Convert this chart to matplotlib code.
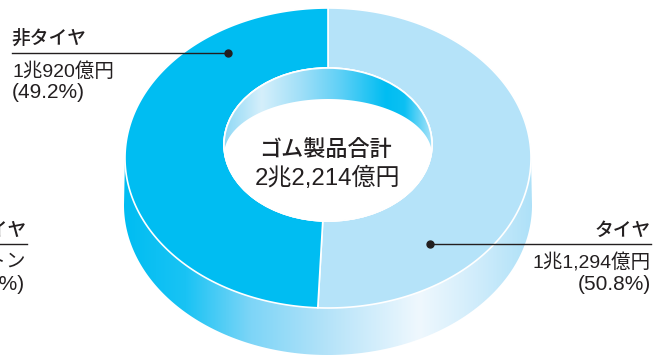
import numpy as np
import matplotlib
matplotlib.use('Agg')
import matplotlib.pyplot as plt
from matplotlib.colors import LinearSegmentedColormap
from matplotlib.patches import Polygon, Ellipse

# sales by segment
segments = ['タイヤ', '非タイヤ']
shares = [50.8, 49.2]
amounts = ['1兆1,294億円', '1兆920億円']
share_labels = ['(50.8%)', '(49.2%)']
total_title = 'ゴム製品合計'
total_amount = '2兆2,214億円'

# partly cut off at the left border
side_labels = ['タイヤ', '万トン', '(50.2%)']

TIRE = '#b5e3f9'
OTHER = '#00bdf2'
INK = '#231f20'
HEAD_FONT = ['Noto Sans CJK JP']
BODY_FONT = ['Liberation Sans', 'Noto Sans CJK JP']

fig = plt.figure(figsize=(6.64, 3.56), dpi=100)
ax = fig.add_axes([0, 0, 1, 1])
ax.set_xlim(0, 664)
ax.set_ylim(356, 0)
ax.axis('off')

CX, CY = 328, 158
RX, RY = 203, 150
DEPTH = 47
IN_CY, IN_RX, IN_RY = 144.5, 104, 76.5


def arc(cx, cy, rx, ry, start, end, n=200):
    # angles run clockwise from twelve o'clock, in degrees
    t = np.radians(np.linspace(start, end, n))
    return np.column_stack([cx + rx * np.sin(t), cy - ry * np.cos(t)])


def gradient(stops, clip, x0, x1, y0, y1, z):
    cmap = LinearSegmentedColormap.from_list('g', stops)
    im = ax.imshow(np.linspace(0, 1, 512)[None, :], cmap=cmap, aspect='auto',
                   extent=[x0, x1, y1, y0], zorder=z)
    clip.set_transform(ax.transData)
    im.set_clip_path(clip)


# side wall of the ring
wall = np.vstack([arc(CX, CY + DEPTH, RX + 1, RY, 90, 270),
                  arc(CX, CY, RX, RY, 270, 90)])
gradient([(0, OTHER), (0.15, '#19c3f4'), (0.31, '#7dd5f7'), (0.5, TIRE),
          (0.725, '#eff8fe'), (0.87, '#cfecfb'), (1, '#aee1f8')],
         Polygon(wall, closed=True), 124, 532, 150, 356, 1)

# top face, one wedge per segment
start = 0
for share, color in zip(shares, [TIRE, OTHER]):
    end = start + share * 3.6
    pts = np.vstack([arc(CX, CY, RX, RY, start, end),
                     arc(CX, IN_CY, IN_RX, IN_RY, end, start)])
    ax.add_patch(Polygon(pts, closed=True, fc=color, ec='white', lw=1.2, zorder=2))
    start = end

# inside of the hole: wall and the white centre
ax.add_patch(Ellipse((CX, IN_CY), IN_RX * 2, IN_RY * 2, fc='white', ec='white', lw=1.2, zorder=3))
hole_wall = np.vstack([arc(CX, IN_CY, IN_RX, IN_RY, -90, 90),
                       arc(CX, 155, IN_RX, 56, 90, -90)])
gradient([(0, '#8fd9f6'), (0.18, '#d5effb'), (0.37, '#a0dff8'), (0.56, '#5fd0f6'),
          (0.78, OTHER), (0.87, '#0cc0f3'), (1, '#a9e3f9')],
         Polygon(hole_wall, closed=True), 224, 432, 60, 190, 4)
ax.add_patch(Ellipse((CX, IN_CY), IN_RX * 2, IN_RY * 2, fc='none', ec='white', lw=1.2, zorder=5))

# leader lines
ax.plot([12, 228], [52.5, 52.5], color=INK, lw=1, zorder=6)
ax.plot([430, 651], [244, 244], color=INK, lw=1, zorder=6)
ax.plot([228], [52.5], 'o', color=INK, ms=5, zorder=7)
ax.plot([430], [244], 'o', color=INK, ms=5, zorder=7)
ax.plot([0, 27], [244, 244], color=INK, lw=1, zorder=6)

# labels
head = dict(fontsize=13.5, fontweight=500, family=HEAD_FONT, color=INK, va='center')
body = dict(fontsize=14, family=BODY_FONT, color=INK, va='center')
pct = dict(fontsize=15, family=BODY_FONT, color=INK, va='center')

ax.text(11.5, 38, segments[1], ha='left', **head)
ax.text(12, 71.5, amounts[1], ha='left', **body)
ax.text(12, 92, share_labels[1], ha='left', **pct)

ax.text(651, 230, segments[0], ha='right', **head)
ax.text(651, 262.5, amounts[0], ha='right', **body)
ax.text(651, 285, share_labels[0], ha='right', **pct)

ax.text(27, 230, side_labels[0], ha='right', **head)
ax.text(26, 262.5, side_labels[1], ha='right', **body)
ax.text(25, 285, side_labels[2], ha='right', **pct)

ax.text(325, 150, total_title, fontsize=15.9, fontweight=500, family=HEAD_FONT,
        color=INK, ha='center', va='center', zorder=8)
ax.text(327, 178.5, total_amount, fontsize=17.3, family=BODY_FONT,
        color=INK, ha='center', va='center', zorder=8)

fig.savefig('out.png', dpi=100)
